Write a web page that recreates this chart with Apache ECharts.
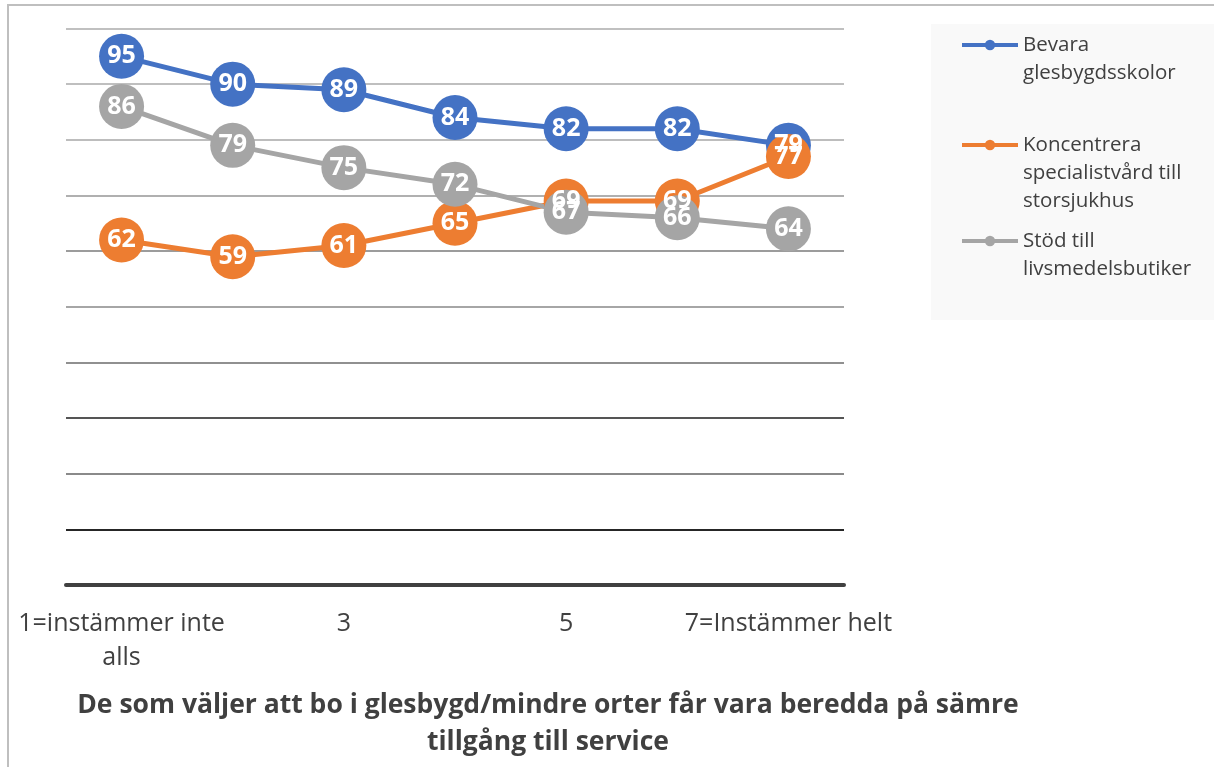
<!DOCTYPE html>
<html>
<head>
	<meta charset="utf-8">
	<title></title>
	<script src="https://cdn.jsdelivr.net/npm/echarts@6/dist/echarts.min.js"></script>
	<style>
		html,body{margin:0;padding:0;background:#fff;}
		#chart{width:1214px;height:767px;}
	</style>
</head>
<body>
	<div id="chart"></div>
<script type="text/javascript">
	var categories=['1=instämmer inte\nalls','2','3','4','5','6','7=Instämmer helt'];
	var seriesNames=['Bevara\nglesbygdsskolor','Koncentrera\nspecialistvård till\nstorsjukhus','Stöd till\nlivsmedelsbutiker'];
	var bevara=[95,90,89,84,82,82,79];
	var koncentrera=[62,59,61,65,69,69,77];
	var stod=[86,79,75,72,67,66,64];
	var colors=['#4472C4','#ED7D31','#A5A5A5'];
	// gridline colours from value 0 up to 100
	var gridColors=['#404040','#262626','#8a8a8a','#555555','#909090','#a6a6a6','#9c9c9c','#b0b0b0','#bdbdbd','#bfbfbf','#c0c0c0'];
	var titleText='De som väljer att bo i glesbygd/mindre orter får vara beredda på sämre\ntillgång till service';

	var font='"Open Sans", sans-serif';
	var lh=28;

	// one legend per series so the icon can sit on the first text line
	function legendFor(i,iconY){
		let name=seriesNames[i];
		let n=name.split('\n').length;
		let h=(2*n-1)*lh;
		return {
			data:[name],
			// blank lines in front keep the first line level with the icon
			formatter:function(t){return '\n'.repeat(n-1)+t;},
			left:960,
			top:iconY-h/2,
			padding:0,
			itemWidth:56,
			itemHeight:13,
			itemGap:0,
			textGap:4,
			selectedMode:false,
			lineStyle:{width:4},
			textStyle:{fontFamily:font,fontSize:20.5,color:'#404040',lineHeight:lh}
		};
	}

	function lineSeries(i,data){
		return {
			name:seriesNames[i],
			type:'line',
			data:data,
			symbol:'circle',
			symbolSize:45,
			itemStyle:{color:colors[i]},
			lineStyle:{width:5,color:colors[i]},
			label:{
				show:true,
				position:'inside',
				color:'#fff',
				fontFamily:font,
				fontWeight:'bold',
				fontSize:25
			},
			emphasis:{disabled:true}
		};
	}

	var myChart=echarts.init(document.getElementById('chart'));
	var option={
		animation:false,
		backgroundColor:'#fff',
		title:{
			text:titleText,
			left:548,
			top:687,
			padding:0,
			textAlign:'center',
			textStyle:{fontFamily:font,fontSize:26.5,fontWeight:'bold',color:'#404040',lineHeight:37}
		},
		legend:[legendFor(0,45),legendFor(1,145),legendFor(2,241)],
		grid:{left:66,right:370,top:28.5,bottom:182,outerBoundsMode:'none'},
		xAxis:{
			type:'category',
			data:categories,
			axisLine:{lineStyle:{color:'#404040',width:4}},
			axisTick:{show:false},
			axisLabel:{interval:1,margin:22,fontFamily:font,fontSize:25,color:'#404040',lineHeight:34},
			splitLine:{show:false}
		},
		yAxis:{
			type:'value',
			min:0,
			max:100,
			interval:10,
			axisLabel:{show:false},
			axisLine:{show:false},
			axisTick:{show:false},
			splitLine:{show:true,lineStyle:{color:gridColors,width:2}}
		},
		graphic:[
			{type:'rect',z:-10,shape:{x:931,y:24,width:300,height:296},style:{fill:'#f9f9f9'}},
			{type:'rect',z:-10,shape:{x:8,y:5,width:1300,height:900},style:{fill:null,stroke:'#bfbfbf',lineWidth:2}}
		],
		series:[lineSeries(0,bevara),lineSeries(1,koncentrera),lineSeries(2,stod)]
	};
	myChart.setOption(option);

	window.addEventListener('resize',()=>{
		myChart.resize();
	});
</script>
</body>
</html>
